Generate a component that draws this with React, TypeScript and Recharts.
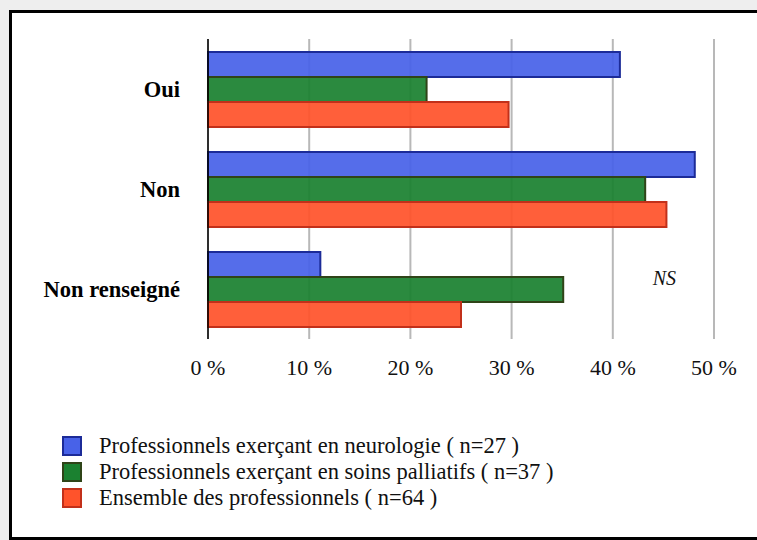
import React from "react"
import { BarChart, Bar, XAxis, YAxis, CartesianGrid, Legend, ReferenceDot } from "recharts"

// Données (en %)
const categories = ["Oui", "Non", "Non renseigné"]
const neurologie = [40.7, 48.1, 11.1]
const soinsPalliatifs = [21.6, 43.2, 35.1]
const ensemble = [29.7, 45.3, 25.0]
const xTicks = [0, 10, 20, 30, 40, 50]

const series = [
  { key: "neurologie", name: "Professionnels exerçant en neurologie ( n=27 )", fill: "#4862e8", stroke: "#1c2b98" },
  { key: "soinsPalliatifs", name: "Professionnels exerçant en soins palliatifs ( n=37 )", fill: "#1b8130", stroke: "#2f4418" },
  { key: "ensemble", name: "Ensemble des professionnels ( n=64 )", fill: "#ff532b", stroke: "#c2301a" },
]

const data = categories.map((name, i) => ({
  name,
  neurologie: neurologie[i],
  soinsPalliatifs: soinsPalliatifs[i],
  ensemble: ensemble[i],
}))

const FONT = "'Liberation Serif', 'Times New Roman', serif"

// légende dans l'ordre des séries (pas de tri)
const renderLegend = () => (
  <div style={{ fontFamily: FONT, fontSize: 22.5, color: "#111" }}>
    {series.map((s) => (
      <div key={s.key} style={{ display: "flex", alignItems: "center", height: 26 }}>
        <span
          style={{
            display: "inline-block",
            width: 16,
            height: 16,
            background: s.fill,
            border: `2px solid ${s.stroke}`,
            marginRight: 17,
            flexShrink: 0,
          }}
        />
        <span style={{ whiteSpace: "nowrap" }}>{s.name}</span>
      </div>
    ))}
  </div>
)

export default function App() {
  return (
    <div style={{ position: "absolute", left: 0, top: 0, width: 757, height: 540, background: "#eeeeee", overflow: "hidden" }}>
      <div
        style={{
          position: "absolute",
          left: 9,
          top: 10,
          width: 780,
          height: 530,
          border: "3px solid #000",
          background: "#fff",
          boxSizing: "border-box",
        }}
      />
      <div style={{ position: "absolute", left: 0, top: 0 }}>
        <BarChart
          width={757}
          height={540}
          data={data}
          layout="vertical"
          margin={{ top: 39, right: 43, left: 0, bottom: 171 }}
          barGap={0}
          barSize={25}
        >
          <CartesianGrid horizontal={false} stroke="#b8b8b8" strokeWidth={2} />
          <XAxis
            type="number"
            domain={[0, 50]}
            ticks={xTicks}
            tickFormatter={(v: number) => `${v} %`}
            axisLine={false}
            tickLine={false}
            tickMargin={14}
            height={30}
            tick={{ fill: "#111", fontSize: 22, fontFamily: FONT }}
          />
          <YAxis
            type="category"
            dataKey="name"
            width={208}
            axisLine={{ stroke: "#000", strokeWidth: 1.5 }}
            tickLine={false}
            tickMargin={22}
            tick={{ fill: "#000", fontSize: 22.5, fontWeight: "bold", fontFamily: FONT }}
          />
          {series.map((s) => (
            <Bar
              key={s.key}
              dataKey={s.key}
              name={s.name}
              fill={s.fill}
              fillOpacity={0.93}
              stroke={s.stroke}
              strokeWidth={2}
              isAnimationActive={false}
            />
          ))}
          <ReferenceDot
            x={45.1}
            y="Non renseigné"
            r={0}
            stroke="none"
            fill="none"
            label={{ value: "NS", position: "top", offset: 4, fill: "#111", fontSize: 20, fontStyle: "italic", fontFamily: FONT }}
          />
          <Legend
            layout="vertical"
            align="center"
            verticalAlign="middle"
            wrapperStyle={{ left: 62, top: 433, width: "auto", height: "auto" }}
            content={renderLegend}
          />
        </BarChart>
      </div>
    </div>
  )
}
